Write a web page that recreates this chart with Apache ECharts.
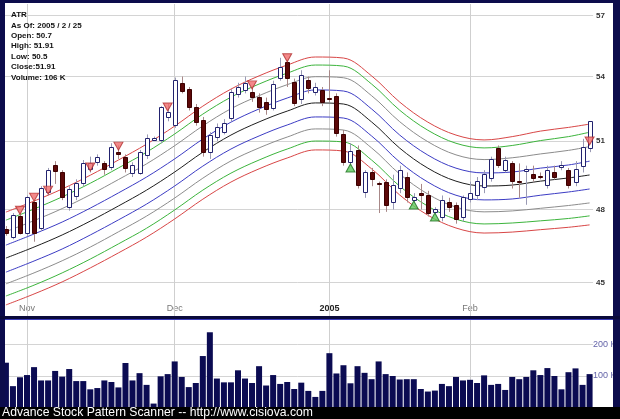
<!DOCTYPE html>
<html><head><meta charset="utf-8">
<script src="https://cdn.jsdelivr.net/npm/echarts@6/dist/echarts.min.js"></script>
<style>html,body{margin:0;padding:0;background:#000}#c{width:620px;height:419px}</style>
</head><body><div id="c"></div>
<script>
const dates = [
'2004-10-27','2004-10-28','2004-10-29',
'2004-11-01','2004-11-02','2004-11-03','2004-11-04','2004-11-05',
'2004-11-08','2004-11-09','2004-11-10','2004-11-11','2004-11-12',
'2004-11-15','2004-11-16','2004-11-17','2004-11-18','2004-11-19',
'2004-11-22','2004-11-23','2004-11-24','2004-11-26','2004-11-29','2004-11-30',
'2004-12-01','2004-12-02','2004-12-03','2004-12-06','2004-12-07','2004-12-08','2004-12-09','2004-12-10',
'2004-12-13','2004-12-14','2004-12-15','2004-12-16','2004-12-17',
'2004-12-20','2004-12-21','2004-12-22','2004-12-23',
'2004-12-27','2004-12-28','2004-12-29','2004-12-30','2004-12-31',
'2005-01-03','2005-01-04','2005-01-05','2005-01-06','2005-01-07',
'2005-01-10','2005-01-11','2005-01-12','2005-01-13','2005-01-14',
'2005-01-18','2005-01-19','2005-01-20','2005-01-21',
'2005-01-24','2005-01-25','2005-01-26','2005-01-27','2005-01-28','2005-01-31',
'2005-02-01','2005-02-02','2005-02-03','2005-02-04',
'2005-02-07','2005-02-08','2005-02-09','2005-02-10','2005-02-11',
'2005-02-14','2005-02-15','2005-02-16','2005-02-17','2005-02-18',
'2005-02-22','2005-02-23','2005-02-24','2005-02-25'];

const open = [47.19,46.85,47.73,47.01,48.32,47.22,48.75,49.93,49.62,48.10,
48.58,49.14,49.75,50.06,50.02,49.84,50.50,50.28,49.57,49.57,
50.37,51.04,51.04,52.10,51.73,53.69,53.41,52.56,51.96,50.50,
51.18,51.41,52.05,53.17,53.36,53.26,53.03,52.79,52.51,53.92,
54.69,53.74,52.93,53.83,53.27,53.36,52.98,53.07,51.32,50.04,
50.59,48.75,49.62,49.15,49.18,48.32,48.92,49.40,48.40,48.70,
48.62,47.89,47.68,48.32,48.19,47.68,48.45,48.62,48.97,49.36,
50.68,49.71,50.02,49.24,49.68,49.53,49.45,49.05,49.62,49.84,
49.71,49.18,49.88,50.70];
const close = [47.02,47.76,47.00,48.53,47.01,48.92,49.70,49.66,48.53,48.88,
49.14,50.02,50.02,50.28,49.75,50.73,50.41,49.79,49.93,50.50,
51.13,51.13,52.56,52.33,53.83,53.31,52.56,51.87,50.50,51.27,
51.64,51.82,53.26,53.50,53.69,53.03,52.56,52.47,53.64,54.46,
53.92,52.74,54.07,53.45,53.50,52.79,52.96,51.36,50.04,50.55,
49.05,49.62,49.31,49.13,48.19,49.05,49.71,48.53,48.53,48.62,
47.85,48.02,48.40,48.10,47.59,48.53,48.70,49.23,49.53,50.19,
49.93,50.15,49.23,49.22,49.75,49.35,49.40,49.71,49.40,49.93,
49.05,49.75,50.73,51.91];
const high = [47.3,47.85,47.85,48.6,48.4,49.0,49.8,50.1,49.7,49.0,
49.3,50.15,50.3,50.4,50.1,50.9,50.8,50.4,50.05,50.6,
51.3,51.2,52.6,52.7,53.95,54.0,53.5,52.7,52.1,51.4,
51.8,52.0,53.4,53.7,54.0,53.5,53.2,53.0,53.8,54.9,
54.8,53.9,54.3,54.0,53.7,53.5,54.3,53.2,51.5,50.9,
50.8,49.7,49.8,49.2,49.3,49.5,49.9,49.6,48.7,49.1,
48.8,48.1,48.6,48.5,48.3,48.6,49.2,49.4,49.7,50.3,
50.8,50.3,50.1,50.0,49.9,49.9,49.6,49.9,49.9,50.1,
49.8,50.1,51.1,51.91];
const low = [46.9,46.75,46.95,46.9,46.65,47.1,48.6,49.1,48.4,47.95,
48.4,49.0,49.6,49.9,49.5,49.7,50.2,49.6,49.4,49.5,
50.2,51.0,50.9,51.9,51.6,53.2,52.4,51.7,50.3,50.2,
51.0,51.3,51.9,53.0,53.2,52.8,52.3,52.2,52.4,53.8,
53.5,52.6,52.7,53.2,53.1,52.6,52.8,51.2,49.9,49.9,
48.9,48.5,49.0,47.85,47.9,48.0,48.7,48.3,48.3,48.0,
47.7,47.8,47.5,47.9,47.4,47.5,48.3,48.4,48.7,49.2,
49.8,49.6,48.9,48.5,48.2,49.2,49.3,48.9,49.3,49.7,
48.9,49.0,49.6,50.5];
const volumeK = [142,68,96,103,128,86,86,116,98,122,84,84,58,62,86,81,64,141,86,109,
72,13,99,106,146,97,65,78,163,238,92,80,80,118,92,78,131,70,103,75,
81,59,79,53,34,53,172,108,134,77,131,110,90,146,106,100,89,90,90,59,
51,54,75,68,97,86,88,78,102,72,75,56,97,90,97,118,103,125,100,58,
112,124,72,106];

// signal markers: [index, price]
const sellSignals = [[2,47.97],[4,48.53],[6,48.83],[12,49.84],[16,50.77],[23,52.56],[35,53.6],[40,54.9],[83,51.0]];
const buySignals = [[49,49.8],[58,48.19],[61,47.68]];

// band lines, sampled at these candle indices
const bandIdx = [0,4,8,12,16,20,24,28,32,36,40,44,48,52,56,60,64,68,72,76,80,83];
const midLine = [45.98,46.43,46.93,47.51,48.15,48.83,49.62,50.50,51.27,51.87,52.37,52.75,52.70,51.87,50.68,49.79,49.22,49.01,49.05,49.22,49.36,49.49];
const upRed   = [47.89,48.36,48.88,49.48,50.15,50.86,51.68,52.60,53.40,54.03,54.55,54.94,54.89,54.03,52.79,51.86,51.27,51.05,51.20,51.45,51.62,51.77];
const upGreen = [47.55,48.02,48.54,49.13,49.80,50.50,51.32,52.23,53.02,53.64,54.16,54.55,54.50,53.64,52.41,51.49,50.90,50.69,50.80,51.02,51.20,51.40];
const upGray  = [47.07,47.53,48.04,48.63,49.29,49.98,50.79,51.69,52.48,53.09,53.61,53.99,53.94,53.09,51.88,50.97,50.38,50.17,50.25,50.42,50.58,50.75];
const upBlue  = [46.51,46.97,47.47,48.06,48.71,49.40,50.20,51.09,51.86,52.47,52.98,53.36,53.31,52.47,51.27,50.37,49.79,49.58,49.62,49.79,49.93,50.10];
const loBlue  = [45.41,45.86,46.35,46.93,47.56,48.23,49.01,49.88,50.64,51.23,51.73,52.10,52.05,51.23,50.06,49.18,48.61,48.41,48.45,48.61,48.75,48.88];
const loGray  = [44.94,45.38,45.87,46.43,47.06,47.72,48.49,49.35,50.11,50.69,51.18,51.55,51.50,50.69,49.53,48.66,48.10,47.90,47.94,48.05,48.17,48.28];
const loGreen = [44.46,44.89,45.38,45.94,46.56,47.21,47.98,48.83,49.57,50.15,50.64,51.00,50.96,50.15,49.00,48.14,47.59,47.39,47.43,47.52,47.62,47.73];
const loRed   = [44.11,44.54,45.02,45.58,46.19,46.84,47.60,48.44,49.18,49.76,50.24,50.60,50.55,49.76,48.62,47.76,47.22,47.01,47.05,47.15,47.25,47.35];

const priceTicks = [45,48,51,54,57];
const volumeTicksK = [100,200];
const monthTicks = {'2004-11-01':'Nov','2004-12-01':'Dec','2005-01-03':'2005','2005-02-01':'Feb'};
const infoLines = ['ATR','As Of: 2005 / 2 / 25','Open: 50.7','High: 51.91','Low: 50.5','Close:51.91','Volume: 106 K'];
const footer = 'Advance Stock Pattern Scanner -- http://www.cisiova.com';

const PRICE_MIN = 43.68, PRICE_MAX = 57.58;
const VOL_MAX = 276.7;
const FONT = '"Liberation Sans", Arial, sans-serif';

const chart = echarts.init(document.getElementById('c'), null, {renderer: 'canvas'});

function bandSeries(vals, color) {
  return {type: 'line', xAxisIndex: 0, yAxisIndex: 0, data: vals.map((v, k) => [bandIdx[k], v]),
    smooth: 0.35, symbol: 'none', silent: true, z: 3,
    lineStyle: {color: color, width: 1}};
}
const monthKeys = Object.keys(monthTicks);
const priceMonthLines = monthKeys.map(d => [{coord: [d, PRICE_MAX]}, {coord: [d, PRICE_MIN]}]);

const candleData = dates.map((d, i) => [i, open[i], close[i], low[i], high[i]]);

const option = {
  backgroundColor: '#ffffff',
  animation: false,
  grid: [
    {left: 2.4, right: 26.9, top: 4, bottom: 103},
    {left: 2.4, right: 26.9, top: 320, bottom: 11.3}
  ],
  xAxis: [
    {type: 'category', gridIndex: 0, data: dates, boundaryGap: true,
     axisLine: {show: false}, axisTick: {show: false}, splitLine: {show: false},
     axisLabel: {inside: true, margin: 3, fontSize: 9, fontFamily: FONT, color: '#777',
       interval: (idx, val) => monthTicks[val] !== undefined,
       formatter: val => monthTicks[val] === '2005' ? '{y|2005}' : (monthTicks[val] || ''),
       rich: {y: {fontWeight: 'bold', color: '#222', fontSize: 9, fontFamily: FONT}}}},
    {type: 'category', gridIndex: 1, data: dates, boundaryGap: true,
     axisLine: {show: false}, axisTick: {show: false}, axisLabel: {show: false}, splitLine: {show: false}}
  ],
  yAxis: [
    {type: 'log', gridIndex: 0, position: 'right', min: PRICE_MIN, max: PRICE_MAX,
     axisLine: {show: false},
     axisTick: {show: false, customValues: priceTicks},
     axisLabel: {customValues: priceTicks, margin: 3, fontSize: 8, fontWeight: 'bold', color: '#333', fontFamily: FONT},
     splitLine: {show: true, lineStyle: {color: '#d4d4d4', width: 1}}},
    {type: 'value', gridIndex: 1, position: 'right', min: 0, max: VOL_MAX,
     axisLine: {show: false},
     axisTick: {show: false, customValues: volumeTicksK},
     axisLabel: {customValues: volumeTicksK, margin: 0, fontSize: 9, color: '#6464a8', fontFamily: FONT,
       formatter: v => v + ' K'},
     splitLine: {show: true, lineStyle: {color: '#d4d4d4', width: 1}}}
  ],
  series: [
    {type: 'line', xAxisIndex: 0, yAxisIndex: 0, data: midLine.map((v, k) => [bandIdx[k], v]),
     smooth: 0.35, symbol: 'none', silent: true, z: 3, lineStyle: {color: '#1e1e1e', width: 1},
     markLine: {silent: true, symbol: 'none', animation: false, label: {show: false},
       lineStyle: {color: '#cfcfcf', width: 1, type: 'solid'}, data: priceMonthLines, z: 1}},
    bandSeries(upBlue, '#3c3cc4'), bandSeries(loBlue, '#3c3cc4'),
    bandSeries(upGray, '#8c8c8c'), bandSeries(loGray, '#8c8c8c'),
    bandSeries(upGreen, '#3cb43c'), bandSeries(loGreen, '#3cb43c'),
    bandSeries(upRed, '#d84646'), bandSeries(loRed, '#d84646'),
    {type: 'custom', xAxisIndex: 0, yAxisIndex: 0, data: candleData, z: 5, silent: true,
     renderItem: function (params, api) {
       const i = api.value(0), o = api.value(1), c = api.value(2), l = api.value(3), h = api.value(4);
       const pO = api.coord([i, o]), pC = api.coord([i, c]), pL = api.coord([i, l]), pH = api.coord([i, h]);
       const cx = Math.round(pO[0]);
       const up = c >= o;
       let top = Math.round(Math.min(pO[1], pC[1])) + 0.5;
       let bot = Math.round(Math.max(pO[1], pC[1])) + 0.5;
       if (bot - top < 1) bot = top + 1;
       return {type: 'group', children: [
         {type: 'line', shape: {x1: cx + 0.5, y1: pH[1], x2: cx + 0.5, y2: pL[1]},
          style: {stroke: up ? '#9a9ab4' : '#a88888', lineWidth: 1}},
         {type: 'rect', shape: {x: cx - 1.5, y: top, width: 4, height: bot - top},
          style: {fill: up ? '#ffffff' : '#5c0808', stroke: up ? '#22226e' : '#3c0000', lineWidth: 1}}
       ]};
     }},
    {type: 'scatter', xAxisIndex: 0, yAxisIndex: 0, data: sellSignals, symbol: 'triangle', symbolRotate: 180,
     symbolSize: [9, 8], z: 6, silent: true, itemStyle: {color: '#f06c6c', borderColor: '#b03030', borderWidth: 1}},
    {type: 'scatter', xAxisIndex: 0, yAxisIndex: 0, data: buySignals, symbol: 'triangle',
     symbolSize: [9, 8], z: 6, silent: true, itemStyle: {color: '#5ccc5c', borderColor: '#207020', borderWidth: 1}},
    {type: 'bar', xAxisIndex: 1, yAxisIndex: 1, data: volumeK, barWidth: 6, silent: true, z: 3,
     itemStyle: {color: '#0b0b52'},
     markLine: {silent: true, symbol: 'none', animation: false, label: {show: false},
       lineStyle: {color: '#cfcfcf', width: 1, type: 'solid'}, data: monthKeys.map(d => ({xAxis: d})), z: 1}}
  ],
  graphic: [
    {type: 'rect', shape: {x: 0, y: 0, width: 5, height: 407}, style: {fill: '#0c0c4c'}, z: 100, silent: true},
    {type: 'rect', shape: {x: 0, y: 0, width: 620, height: 3}, style: {fill: '#0c0c4c'}, z: 100, silent: true},
    {type: 'rect', shape: {x: 613, y: 0, width: 7, height: 407}, style: {fill: '#0c0c4c'}, z: 100, silent: true},
    {type: 'rect', shape: {x: 0, y: 316, width: 620, height: 3}, style: {fill: '#0a0a3a'}, z: 100, silent: true},
    {type: 'rect', shape: {x: 5, y: 319, width: 608, height: 1}, style: {fill: '#3a3ab8'}, z: 100, silent: true},
    {type: 'rect', shape: {x: 0, y: 407, width: 620, height: 12}, style: {fill: '#000000'}, z: 100, silent: true},
    {type: 'text', x: 2, y: 413, z: 101, silent: true,
     style: {text: footer, fill: '#ffffff', font: '12.2px ' + FONT, textVerticalAlign: 'middle'}}
  ].concat(infoLines.map((t, k) => ({type: 'text', x: 11, y: 15 + k * 10.4, z: 101, silent: true,
     style: {text: t, fill: '#111', font: 'bold 8px ' + FONT, textVerticalAlign: 'middle'}})))
};
chart.setOption(option);
</script></body></html>
